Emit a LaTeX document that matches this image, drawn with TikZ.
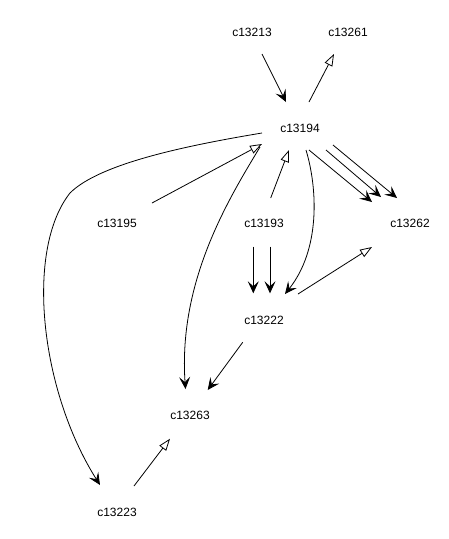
\documentclass[tikz,border=0pt]{standalone}
\usepackage{fontspec}
\setmainfont{Liberation Sans}
\usetikzlibrary{arrows.meta,calc}
\begin{document}
\begin{tikzpicture}[x=1pt,y=-1pt,
  lbl/.style={inner sep=0pt,font=\fontsize{12}{14}\selectfont},
  edge/.style={line width=0.8pt,black},
  blk/.style={edge,-{Stealth[length=12pt,width=11pt,inset=5pt]}},
  opn/.style={edge,-{Triangle[open,length=12pt,width=8.5pt,line width=0.8pt]}}]
\useasboundingbox (0,0) rectangle (449,539);
\node[lbl] (c13213) at (252,32) {c13213};
\node[lbl] (c13261) at (348,32) {c13261};
\node[lbl] (c13194) at (300,128) {c13194};
\node[lbl] (c13195) at (117,223) {c13195};
\node[lbl] (c13193) at (264,223) {c13193};
\node[lbl] (c13262) at (410,223) {c13262};
\node[lbl] (c13222) at (264,320) {c13222};
\node[lbl] (c13263) at (190,415) {c13263};
\node[lbl] (c13223) at (117,512) {c13223};
\coordinate (bend) at (70,193);
% edges
\draw[blk] ($(c13213)+(10,22)$) -- ($(c13194)+(-14,-26)$);
\draw[opn] ($(c13194)+(9,-26)$) -- ($(c13261)+(-14,22)$);
\draw[blk] ($(c13194)+(-38,5)$) .. controls (190,145) and (100,163) .. (bend)
  .. controls (25,250) and (40,390) .. ($(c13223)+(-17,-27)$);
\draw[opn] ($(c13195)+(35,-20)$) -- ($(c13194)+(-38,16)$);
\draw[blk] ($(c13194)+(-40,19)$) .. controls (230,197) and (178,280) .. ($(c13263)+(-4.5,-26)$);
\draw[opn] ($(c13193)+(6.7,-25)$) -- ($(c13194)+(-11,22)$);
\draw[blk] ($(c13194)+(6,22)$) .. controls (318,190) and (320,250) .. ($(c13222)+(21,-26)$);
\draw[blk] ($(c13194)+(9,22)$) -- ($(c13262)+(-38,-21)$);
\draw[blk] ($(c13194)+(26,22)$) -- ($(c13262)+(-29,-26)$);
\draw[blk] ($(c13194)+(33,17)$) -- ($(c13262)+(-13,-25)$);
\draw[blk] ($(c13193)+(-10.7,23.7)$) -- ($(c13222)+(-10.7,-26.7)$);
\draw[blk] ($(c13193)+(6,23.7)$) -- ($(c13222)+(6,-26.7)$);
\draw[opn] ($(c13222)+(34,-26)$) -- ($(c13262)+(-38,24)$);
\draw[blk] ($(c13222)+(-21.3,22.3)$) -- ($(c13263)+(17.7,-25)$);
\draw[opn] ($(c13223)+(17,-26)$) -- ($(c13263)+(-20,23.7)$);
\end{tikzpicture}
\end{document}
